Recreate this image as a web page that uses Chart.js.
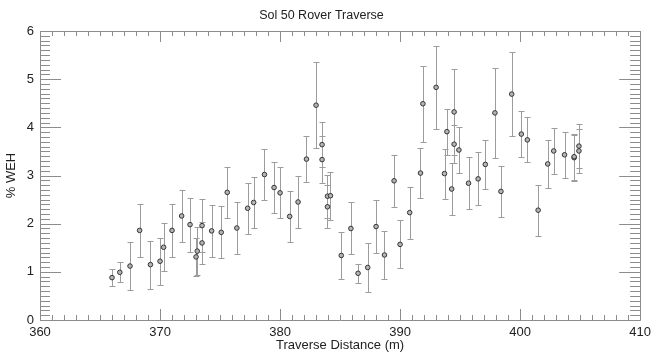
<!DOCTYPE html>
<html>
<head>
<meta charset="utf-8">
<script src="https://cdn.jsdelivr.net/npm/chart.js@4.4.1/dist/chart.umd.min.js"></script>
<style>
  html, body { margin: 0; padding: 0; background: #fff; }
  #wrap { width: 656px; height: 354px; }
</style>
</head>
<body>
<div id="wrap"><canvas id="traverse"></canvas></div>
<script>
// traverse distance (m), water-equivalent hydrogen (%) and 1-sigma error
const distance = [
  366.0, 366.65, 367.5, 368.3, 369.2, 370.0, 370.3, 371.0, 371.8, 372.5,
  373.0, 373.1, 373.5, 373.5, 374.3, 375.1, 375.6, 376.4, 377.3, 377.8,
  378.7, 379.5, 380.0, 380.8, 381.5, 382.2, 383.0, 383.5, 383.5, 383.95,
  383.95, 384.2, 385.1, 385.9, 386.5, 387.3, 388.0, 388.7, 389.5, 390.0,
  390.8, 391.7, 391.9, 393.0, 393.7, 393.9, 394.3, 394.5, 394.5, 394.9,
  395.7, 396.5, 397.1, 397.9, 398.4, 399.3, 400.1, 400.6, 401.5, 402.3,
  402.8, 403.7, 404.5, 404.5, 404.9, 404.9
];
const weh = [
  0.88, 0.99, 1.12, 1.86, 1.15, 1.22, 1.51, 1.86, 2.16, 1.98,
  1.31, 1.43, 1.96, 1.60, 1.85, 1.82, 2.65, 1.91, 2.32, 2.44,
  3.02, 2.75, 2.64, 2.15, 2.45, 3.34, 4.46, 3.64, 3.33, 2.57,
  2.35, 2.58, 1.34, 1.90, 0.97, 1.09, 1.94, 1.35, 2.89, 1.57,
  2.23, 3.05, 4.49, 4.83, 3.04, 3.91, 2.72, 4.32, 3.65, 3.53,
  2.84, 2.93, 3.23, 4.30, 2.67, 4.69, 3.86, 3.74, 2.28, 3.24,
  3.51, 3.43, 3.37, 3.39, 3.61, 3.51
];
const wehErr = [
  0.17, 0.21, 0.50, 0.55, 0.50, 0.49, 0.50, 0.55, 0.54, 0.56,
  0.40, 0.50, 0.55, 0.43, 0.54, 0.54, 0.53, 0.55, 0.53, 0.52,
  0.52, 0.53, 0.53, 0.53, 0.53, 0.48, 0.89, 0.47, 0.48, 0.45,
  0.45, 0.50, 0.49, 0.54, 0.20, 0.50, 0.55, 0.50, 0.54, 0.50,
  0.54, 0.52, 0.79, 0.86, 0.52, 0.48, 0.54, 0.90, 0.40, 0.48,
  0.54, 0.55, 0.50, 0.93, 0.53, 0.87, 0.47, 0.47, 0.53, 0.50,
  0.48, 0.48, 0.48, 0.48, 0.45, 0.45
];
const xTicks = [360, 370, 380, 390, 400, 410];
const yTicks = [0, 1, 2, 3, 4, 5, 6];

const FONT = "'Liberation Sans', Arial, Helvetica, sans-serif";

// vertical error bars with small caps
const errorBars = {
  id: 'errorBars',
  beforeDatasetsDraw(chart) {
    const { ctx, scales: { x, y } } = chart;
    ctx.save();
    ctx.strokeStyle = '#9c9c9c';
    ctx.lineWidth = 1;
    distance.forEach((d, i) => {
      const px = Math.round(x.getPixelForValue(d)) + 0.5;
      const top = Math.round(y.getPixelForValue(weh[i] + wehErr[i])) + 0.5;
      const bot = Math.round(y.getPixelForValue(weh[i] - wehErr[i])) + 0.5;
      ctx.beginPath();
      ctx.moveTo(px, top); ctx.lineTo(px, bot);
      ctx.moveTo(px - 3, top); ctx.lineTo(px + 3, top);
      ctx.moveTo(px - 3, bot); ctx.lineTo(px + 3, bot);
      ctx.stroke();
    });
    ctx.restore();
  }
};

// boxed frame with inward major/minor ticks on all four sides
const frameTicks = {
  id: 'frameTicks',
  beforeDatasetsDraw(chart) {
    const { ctx, chartArea: a, scales: { x, y } } = chart;
    ctx.save();
    ctx.strokeStyle = '#8c8c8c';
    ctx.lineWidth = 1;
    ctx.beginPath();
    ctx.rect(Math.round(a.left) + 0.5, Math.round(a.top) + 0.5,
             Math.round(a.right - a.left), Math.round(a.bottom - a.top));
    ctx.stroke();

    ctx.beginPath();
    for (let i = 0; i <= x.max - x.min; i++) {
      const v = x.min + i;
      const px = Math.round(x.getPixelForValue(v)) + 0.5;
      const len = (v % 10 === 0) ? 11 : 5;
      ctx.moveTo(px, a.bottom); ctx.lineTo(px, a.bottom - len);
      ctx.moveTo(px, a.top); ctx.lineTo(px, a.top + len);
    }
    for (let i = 0; i <= (y.max - y.min) * 10; i++) {
      const py = Math.round(y.getPixelForValue(y.min + i / 10)) + 0.5;
      const len = (i % 10 === 0) ? 21 : 10;
      ctx.moveTo(a.left, py); ctx.lineTo(a.left + len, py);
      ctx.moveTo(a.right, py); ctx.lineTo(a.right - len, py);
    }
    ctx.stroke();
    ctx.restore();
  }
};

new Chart(document.getElementById('traverse'), {
  type: 'scatter',
  data: {
    datasets: [{
      label: '% WEH',
      data: distance.map((d, i) => ({ x: d, y: weh[i] })),
      pointRadius: 2.3,
      pointHoverRadius: 2.3,
      pointBorderWidth: 1,
      borderColor: '#333',
      backgroundColor: '#b4b4b4'
    }]
  },
  options: {
    responsive: true,
    maintainAspectRatio: false,
    animation: false,
    layout: { padding: { left: 0, right: 13, top: 0, bottom: 0 } },
    plugins: {
      legend: { display: false },
      tooltip: { enabled: false },
      title: {
        display: true,
        text: 'Sol 50 Rover Traverse',
        color: '#222',
        font: { family: FONT, size: 12.5, weight: 'normal' },
        padding: { top: 8, bottom: 8 }
      }
    },
    scales: {
      x: {
        type: 'linear',
        min: 360,
        max: 410,
        afterBuildTicks: s => { s.ticks = xTicks.map(v => ({ value: v })); },
        afterFit: s => { s.height = 34; },
        grid: { display: false, drawTicks: false },
        border: { display: false },
        ticks: { color: '#222', padding: 5, font: { family: FONT, size: 13 } },
        title: {
          display: true,
          text: 'Traverse Distance (m)',
          color: '#222',
          font: { family: FONT, size: 13 },
          padding: { top: 0, bottom: 1 }
        }
      },
      y: {
        min: 0,
        max: 6,
        afterBuildTicks: s => { s.ticks = yTicks.map(v => ({ value: v })); },
        afterFit: s => { s.width = 40; },
        grid: { display: false, drawTicks: false },
        border: { display: false },
        ticks: { color: '#222', padding: 6, font: { family: FONT, size: 13 } },
        title: {
          display: true,
          text: '% WEH',
          color: '#222',
          font: { family: FONT, size: 13 },
          padding: { top: 4, bottom: 0 }
        }
      }
    }
  },
  plugins: [frameTicks, errorBars]
});
</script>
</body>
</html>
